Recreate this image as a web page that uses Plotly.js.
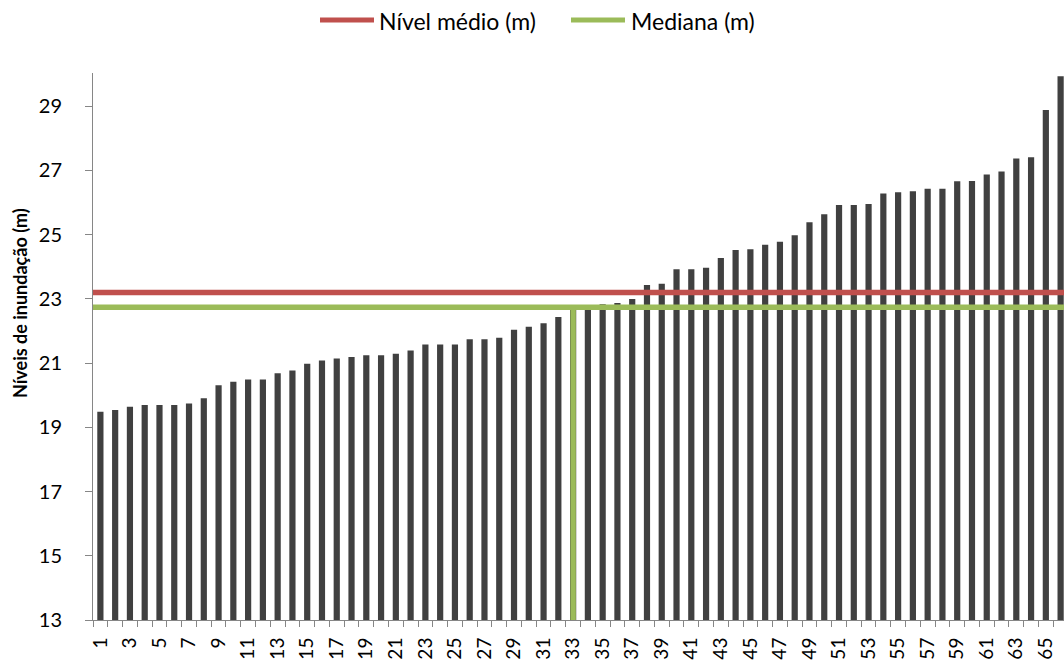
<!DOCTYPE html>
<html>
<head>
<meta charset="utf-8">
<script src="https://cdn.plot.ly/plotly-3.0.1.min.js"></script>
<style>
html,body{margin:0;padding:0;overflow:hidden;background:#fff;width:1064px;height:662px;}
#chart{width:1068px;height:662px;}
</style>
</head>
<body>
<div id="chart"></div>
<script>
// Data
const positions = Array.from({length: 66}, (_, i) => i + 1);
const levels = [
  19.48, 19.54, 19.64, 19.69, 19.69, 19.69, 19.74, 19.90,
  20.31, 20.42, 20.49, 20.49, 20.68, 20.77, 20.98, 21.08,
  21.14, 21.19, 21.24, 21.24, 21.29, 21.39, 21.58, 21.58,
  21.58, 21.74, 21.74, 21.79, 22.04, 22.13, 22.24, 22.43,
  22.65, 22.78, 22.83, 22.87, 22.99, 23.43, 23.47, 23.92,
  23.92, 23.97, 24.27, 24.52, 24.54, 24.68, 24.78, 24.98,
  25.38, 25.63, 25.92, 25.92, 25.95, 26.28, 26.32, 26.35,
  26.43, 26.43, 26.66, 26.67, 26.87, 26.96, 27.37, 27.41,
  28.88, 29.93
];
const meanLevel = 23.2;
const medianLevel = 22.74;
const medianPosition = 33;
const seriesNames = ['Nível médio (m)', 'Mediana (m)'];
const seriesColors = ['#C0504D', '#9BBB59'];
const xTickVals = positions.filter(p => p % 2 === 1);
const xTickText = xTickVals.map(String);
const yTickVals = [13, 15, 17, 19, 21, 23, 25, 27, 29];

const xMin = 0.5, xMax = 66.5, yMin = 13, yMax = 30.03;
const fontFam = 'Lato, "Open Sans", sans-serif';

// plot-area geometry (pixels) used to place the legend in paper units
const PL = 93, PW = 975, PB = 620, PH = 547;
const px = v => (v - PL) / PW;
const py = v => (PB - v) / PH;

const traces = [
  {
    type: 'bar', x: positions, y: levels,
    marker: {color: '#404040', line: {width: 0}},
    width: 0.42, showlegend: false, hoverinfo: 'x+y'
  },
  {
    type: 'scatter', mode: 'lines', name: seriesNames[0], showlegend: false,
    x: [xMin, xMax], y: [meanLevel, meanLevel],
    line: {color: seriesColors[0], width: 5.5}
  },
  {
    type: 'scatter', mode: 'lines', name: seriesNames[1], showlegend: false,
    x: [xMin, xMax, null, medianPosition, medianPosition],
    y: [medianLevel, medianLevel, null, yMin, medianLevel],
    line: {color: seriesColors[1], width: 5.5}
  }
];

// legend (sample lines + labels) laid out as in the reference
const legendY = 20;
const legendItems = [
  {x0: 320, x1: 374, tx: 377},
  {x0: 571, x1: 625, tx: 629}
];
const shapes = legendItems.map((it, i) => ({
  type: 'line', xref: 'paper', yref: 'paper',
  x0: px(it.x0), x1: px(it.x1), y0: py(legendY), y1: py(legendY),
  line: {color: seriesColors[i], width: 5}
}));
const legendLabels = legendItems.map((it, i) => ({
  text: seriesNames[i], xref: 'paper', yref: 'paper',
  x: px(it.tx), y: py(legendY + 1), xanchor: 'left', yanchor: 'middle',
  showarrow: false, font: {size: 23, family: fontFam, color: '#000'}
}));

const layout = {
  width: 1068, height: 662,
  margin: {l: 93, r: 0, t: 73, b: 42, pad: 0},
  paper_bgcolor: '#fff', plot_bgcolor: '#fff',
  font: {family: fontFam, color: '#000', size: 19},
  showlegend: false,
  xaxis: {
    range: [xMin, xMax], showgrid: false, zeroline: false,
    showline: true, linecolor: '#868686', linewidth: 1,
    tickmode: 'array', tickvals: xTickVals, ticktext: xTickText,
    ticks: '', tickangle: -90, tickfont: {size: 19, family: fontFam, color: '#000'},
    ticklabelstandoff: 9,
    minor: {tickmode: 'linear', tick0: 0.5, dtick: 1, ticks: 'outside', ticklen: 6, tickcolor: '#868686', tickwidth: 1, showgrid: false},
    fixedrange: true
  },
  yaxis: {
    range: [yMin, yMax], showgrid: false, zeroline: false,
    showline: true, linecolor: '#868686', linewidth: 1,
    tickmode: 'array', tickvals: yTickVals,
    ticks: 'outside', ticklen: 7, tickcolor: '#868686', tickwidth: 1,
    tickfont: {size: 20, family: fontFam, color: '#000'},
    ticklabelstandoff: 19,
    fixedrange: true
  },
  shapes: shapes,
  annotations: [{
    text: '<b>Níveis de inundação (m)</b>',
    xref: 'paper', yref: 'paper', x: px(20), y: py(303),
    xanchor: 'center', yanchor: 'middle', textangle: -90, showarrow: false,
    font: {size: 18, family: fontFam, color: '#000'}
  }].concat(legendLabels)
};

Plotly.newPlot('chart', traces, layout, {displayModeBar: false, staticPlot: true});
</script>
</body>
</html>
